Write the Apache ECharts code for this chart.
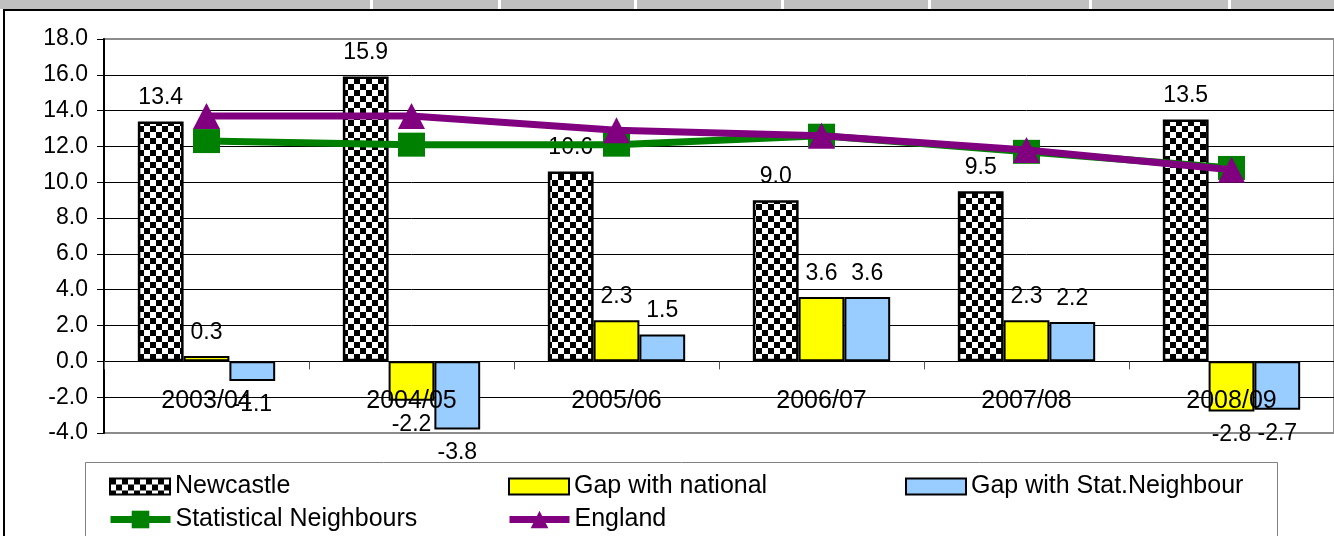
<!DOCTYPE html>
<html>
<head>
<meta charset="utf-8">
<script src="https://cdn.jsdelivr.net/npm/echarts@6/dist/echarts.min.js"></script>
<style>
html,body{margin:0;padding:0;background:#fff;}
#chart{width:1334px;height:536px;}
</style>
</head>
<body>
<div id="chart"></div>
<script>
const categories = ['2003/04', '2004/05', '2005/06', '2006/07', '2007/08', '2008/09'];
const newcastle = [13.4, 15.9, 10.6, 9.0, 9.5, 13.5];
const gapNational = [0.3, -2.2, 2.3, 3.6, 2.3, -2.8];
const gapStatNeighbour = [-1.1, -3.8, 1.5, 3.6, 2.2, -2.7];
const statNeighbours = [12.3, 12.1, 12.1, 12.6, 11.7, 10.8];
const england = [13.7, 13.7, 12.9, 12.6, 11.8, 10.7];
const seriesNames = ['Newcastle', 'Gap with national', 'Gap with Stat.Neighbour', 'Statistical Neighbours', 'England'];
const yMin = -4, yMax = 18, yStep = 2;

const FONT = '"Liberation Sans", Arial, sans-serif';

// checkerboard pattern
const pc = document.createElement('canvas');
pc.width = 12; pc.height = 12;
const pctx = pc.getContext('2d');
pctx.fillStyle = '#fff'; pctx.fillRect(0, 0, 12, 12);
pctx.fillStyle = '#000'; pctx.fillRect(0, 0, 6, 6); pctx.fillRect(6, 6, 6, 6);
const checker = { image: pc, repeat: 'repeat' };

function barData(arr) {
  return arr.map(v => ({ value: v, label: { position: v < 0 ? 'bottom' : 'top' } }));
}
const labelCommon = { show: true, distance: 12, color: '#000', fontFamily: FONT, fontSize: 23, formatter: p => p.value.toFixed(1) };

const chart = echarts.init(document.getElementById('chart'), null, { renderer: 'canvas' });

const legendBase = { orient: 'horizontal', padding: 0, itemWidth: 60, itemHeight: 16, itemGap: 0,
  textStyle: { fontFamily: FONT, fontSize: 25, color: '#000', padding: [0, 0, 0, 0] }, selectedMode: false };
const legendBar = Object.assign({}, legendBase, { icon: 'rect' });
const legendLine = Object.assign({}, legendBase, { itemHeight: 22, lineStyle: { width: 7 } });

// split line colours: outer border lines grey, inner black
const nLines = Math.round((yMax - yMin) / yStep) + 1;
const splitColors = [];
for (let i = 0; i < nLines; i++) splitColors.push(i === 0 || i === nLines - 1 ? '#8c8c8c' : '#000');

// header band separators
const seps = [370, 498, 634, 781, 928, 1089, 1228];
const graphics = [
  { type: 'rect', shape: { x: 0, y: 0, width: 1334, height: 9 }, style: { fill: '#c0c0c0' }, silent: true },
  ...seps.map(x => ({ type: 'rect', shape: { x: x, y: 0, width: 3, height: 9 }, style: { fill: '#ffffff' }, silent: true })),
  { type: 'rect', shape: { x: 4, y: 9, width: 1332, height: 2 }, style: { fill: '#000' }, silent: true },
  { type: 'rect', shape: { x: 3, y: 9, width: 2, height: 530 }, style: { fill: '#000' }, silent: true },
  { type: 'rect', shape: { x: 85.5, y: 462.5, width: 1192, height: 80 }, style: { fill: '#fff', stroke: '#808080', lineWidth: 1 }, silent: true, z: -1 }
];

chart.setOption({
  animation: false,
  backgroundColor: '#fff',
  grid: { left: 104, right: -6, top: 39, bottom: 103, show: true, borderColor: '#8c8c8c', borderWidth: 2, backgroundColor: 'transparent' },
  graphic: graphics,
  legend: [
    Object.assign({}, legendBar, { left: 109, top: 474, data: [seriesNames[0]] }),
    Object.assign({}, legendBar, { left: 508, top: 474, data: [seriesNames[1]] }),
    Object.assign({}, legendBar, { left: 905, top: 474, data: [seriesNames[2]] }),
    Object.assign({}, legendLine, { left: 107, top: 507, data: [seriesNames[3]] }),
    Object.assign({}, legendLine, { left: 506, top: 507, data: [seriesNames[4]] })
  ],
  xAxis: {
    type: 'category', data: categories, z: 10,
    axisLine: { onZero: true, lineStyle: { color: '#000', width: 1 } },
    axisTick: { show: true, length: 8, lineStyle: { color: '#555' }, alignWithLabel: false },
    axisLabel: { margin: -44, color: '#000', fontFamily: FONT, fontSize: 25 },
    splitLine: { show: false }
  },
  yAxis: {
    type: 'value', min: yMin, max: yMax, interval: yStep,
    axisLine: { show: true, lineStyle: { color: '#000', width: 2 } },
    axisTick: { show: true, length: 7, lineStyle: { color: '#000' } },
    axisLabel: { margin: 16, color: '#000', fontFamily: FONT, fontSize: 23, formatter: v => v.toFixed(1) },
    splitLine: { show: true, lineStyle: { color: splitColors, width: 1 } }
  },
  series: [
    { name: seriesNames[0], type: 'bar', data: barData(newcastle), barGap: '0%', barCategoryGap: '33%',
      itemStyle: { color: checker, borderColor: '#000', borderWidth: 2.5 }, label: labelCommon },
    { name: seriesNames[1], type: 'bar', data: barData(gapNational), barGap: '0%', barCategoryGap: '33%',
      itemStyle: { color: '#ffff00', borderColor: '#000', borderWidth: 2 }, label: labelCommon },
    { name: seriesNames[2], type: 'bar', data: barData(gapStatNeighbour), barGap: '0%', barCategoryGap: '33%',
      itemStyle: { color: '#99ccff', borderColor: '#000', borderWidth: 2 }, label: labelCommon },
    { name: seriesNames[3], type: 'line', data: statNeighbours, symbol: 'rect', symbolSize: [27, 24],
      lineStyle: { color: '#008000', width: 7 }, itemStyle: { color: '#008000' }, z: 5 },
    { name: seriesNames[4], type: 'line', data: england, symbol: 'triangle', symbolSize: [27, 26],
      lineStyle: { color: '#800080', width: 7 }, itemStyle: { color: '#800080' }, z: 6 }
  ]
});
</script>
</body>
</html>
